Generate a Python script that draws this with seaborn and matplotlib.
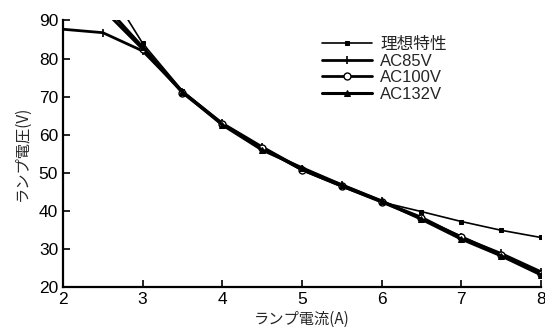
import numpy as np
import pandas as pd
import matplotlib
matplotlib.use("Agg")
import matplotlib.pyplot as plt
import seaborn as sns

# data
current = [2.0, 2.5, 3.0, 3.5, 4.0, 4.5, 5.0, 5.5, 6.0, 6.5, 7.0, 7.5, 8.0]
ideal = [np.nan, 100.8, 84.0, 71.5, 63.0, 56.3, 50.6, 46.3, 42.3, 39.8, 37.2, 34.9, 33.0]
ac85 = [87.7, 86.8, 82.0, 71.3, 63.0, 56.8, 51.0, 46.8, 42.5, 38.3, 33.0, 28.8, 24.0]
ac100 = [np.nan, 93.0, 82.5, 71.0, 62.8, 56.5, 50.8, 46.5, 42.3, 38.0, 33.2, 28.5, 23.5]
ac132 = [np.nan, 94.5, 83.0, 71.2, 62.6, 56.0, 51.3, 46.8, 42.6, 37.8, 32.6, 28.2, 23.2]

labels = ["理想特性", "AC85V", "AC100V", "AC132V"]

df = pd.DataFrame({"I": current, labels[0]: ideal, labels[1]: ac85,
                   labels[2]: ac100, labels[3]: ac132})
long = df.melt(id_vars="I", var_name="series", value_name="V").dropna()

sns.set_style("ticks")
plt.rcParams["font.family"] = ["Liberation Sans", "Noto Sans CJK JP"]

fig = plt.figure(figsize=(5.45, 3.29), dpi=100)
ax = fig.add_axes([0.1156, 0.1277, 0.877, 0.81])

styles = {
    labels[0]: dict(marker="s", markersize=3.5, lw=1.2, mfc="k"),
    labels[1]: dict(marker="|", markersize=6, lw=2.0, mfc="k", mew=1.2),
    labels[2]: dict(marker="o", markersize=5, lw=2.0, mfc="white", mew=1.0),
    labels[3]: dict(marker="^", markersize=5, lw=2.2, mfc="k"),
}
for name in labels:
    sub = long[long["series"] == name]
    sns.lineplot(data=sub, x="I", y="V", ax=ax, color="k", label=name,
                 mec="k", **styles[name])

ax.set_xlim(2, 8)
ax.set_ylim(20, 90)
ax.set_xticks(range(2, 9))
ax.set_yticks(range(20, 91, 10))
ax.tick_params(direction="in", length=5, width=1.2, labelsize=12.5, colors="k")
for s in ["top", "right"]:
    ax.spines[s].set_visible(False)
for s in ["left", "bottom"]:
    ax.spines[s].set_linewidth(1.6)
    ax.spines[s].set_color("k")

ax.set_xlabel("ランプ電流(A)", fontsize=11, labelpad=3,
              family=["Noto Sans CJK JP", "DejaVu Sans"])
ax.set_ylabel("ランプ電圧(V)", fontsize=11, labelpad=6,
              family=["Noto Sans CJK JP", "DejaVu Sans"])

ax.legend(loc="upper left", bbox_to_anchor=(0.51, 0.995), frameon=False,
          fontsize=12, handlelength=3.0, handletextpad=0.5, labelspacing=0.1)

fig.savefig("out.png", dpi=100)
